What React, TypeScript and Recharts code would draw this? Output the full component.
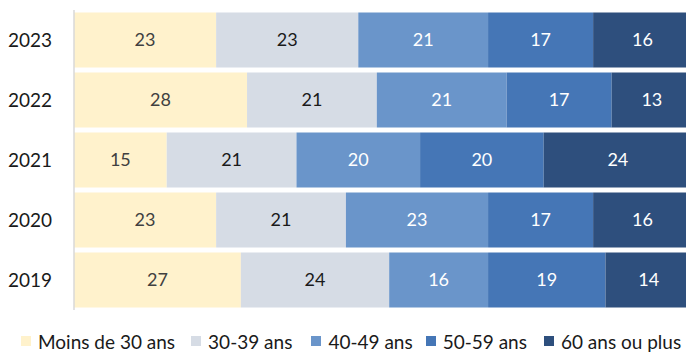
import React from "react";
import { BarChart, Bar, XAxis, YAxis, LabelList, Legend } from "recharts";

const years = ["2023", "2022", "2021", "2020", "2019"];
const moins30 = [23, 28, 15, 23, 27];
const a30_39 = [23, 21, 21, 21, 24];
const a40_49 = [21, 21, 20, 23, 16];
const a50_59 = [17, 17, 20, 17, 19];
const a60plus = [16, 13, 24, 16, 14];

const seriesNames = ["Moins de 30 ans", "30-39 ans", "40-49 ans", "50-59 ans", "60 ans ou plus"];
const seriesKeys = ["s0", "s1", "s2", "s3", "s4"];
const seriesColors = ["#FFF2CC", "#D6DCE5", "#6A95CA", "#4576B6", "#2E4F7D"];
const labelColors = ["#404040", "#1a1a1a", "#ffffff", "#ffffff", "#ffffff"];
const legendGaps = [0, 16, 19, 13, 17];

const data = years.map((y, i) => ({
  year: y,
  s0: moins30[i],
  s1: a30_39[i],
  s2: a40_49[i],
  s3: a50_59[i],
  s4: a60plus[i],
}));

const FONT = "Lato, 'Open Sans', sans-serif";

const renderLegend = () => (
  <div
    style={{
      height: 44,
      display: "flex",
      alignItems: "center",
      paddingTop: 18,
      boxSizing: "border-box",
      paddingLeft: 21,
      fontFamily: FONT,
      fontSize: 19,
      color: "#1a1a1a",
      whiteSpace: "nowrap",
    }}
  >
    {seriesNames.map((n, i) => (
      <div key={n} style={{ display: "flex", alignItems: "center", marginLeft: legendGaps[i] }}>
        <span style={{ width: 10, height: 10, background: seriesColors[i], display: "inline-block", marginRight: 7 }} />
        <span>{n}</span>
      </div>
    ))}
  </div>
);

export default function App() {
  return (
    <div style={{ position: "absolute", left: 0, top: 0, width: 686, height: 354, overflow: "hidden", background: "#fff" }}>
      <BarChart
        width={692}
        height={354}
        data={data}
        layout="vertical"
        margin={{ top: 10, right: 0, left: 0, bottom: 0 }}
        barCategoryGap={2.5}
      >
        <XAxis type="number" domain={[0, 100]} hide />
        <YAxis
          type="category"
          dataKey="year"
          width={74}
          tickLine={false}
          tickSize={8}
          tickMargin={14}
          axisLine={{ stroke: "#D9D9D9", strokeWidth: 1.5 }}
          tick={{ fill: "#1a1a1a", fontSize: 19, fontFamily: FONT }}
        />
        <Legend verticalAlign="bottom" content={renderLegend} wrapperStyle={{ left: 0, width: 686 }} height={44} />
        {seriesKeys.map((k, i) => (
          <Bar key={k} dataKey={k} name={seriesNames[i]} stackId="a" fill={seriesColors[i]} isAnimationActive={false}>
            <LabelList
              dataKey={k}
              position="center"
              fill={labelColors[i]}
              style={{ fontSize: 18, fontFamily: FONT }}
            />
          </Bar>
        ))}
      </BarChart>
    </div>
  );
}
